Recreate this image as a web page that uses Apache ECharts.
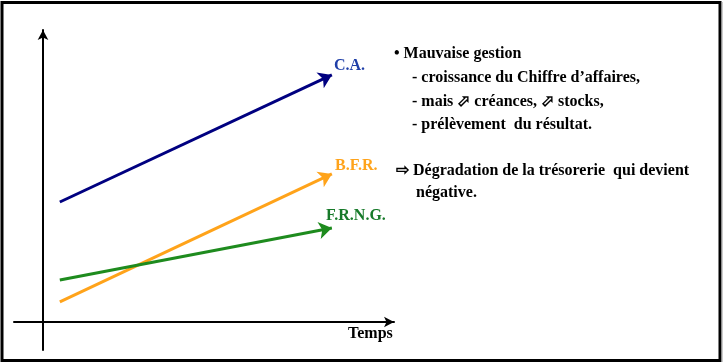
<!DOCTYPE html>
<html>
<head>
<meta charset="utf-8">
<script src="https://cdn.jsdelivr.net/npm/echarts@6/dist/echarts.min.js"></script>
<style>html,body{margin:0;padding:0;background:#fff;}#c{width:723px;height:364px;}</style>
</head>
<body>
<div id="c"></div>
<script>
// Data (abstract units, origin at the axes' crossing)
const temps = [4.8, 82.3];               // start and end on the time axis
const seriesNames = ['C.A.', 'B.F.R.', 'F.R.N.G.'];
const caValues = [41.1, 84.6];
const bfrValues = [6.9, 50.7];
const frngValues = [14.4, 32.2];
const textLines = [
  '• Mauvaise gestion',
  '- croissance du Chiffre d\u2019affaires,',
  '- mais \u2B00 créances, \u2B00 stocks,',
  '- prélèvement  du résultat.'
];
const conclusion = ['\u21E8 Dégradation de la trésorerie  qui devient', 'négative.'];
const axisTitle = 'Temps';

const colors = ['#000080', '#FFA31A', '#1E8B1E'];
const labelColors = ['#1F3FA8', '#FFA31A', '#177A2A'];
const values = [caValues, bfrValues, frngValues];

const serif = '"Liberation Serif", "Times New Roman", serif';
const f16 = 'bold 16px ' + serif;

const chart = echarts.init(document.getElementById('c'), null, {renderer: 'canvas'});

const series = values.map((v, i) => ({
  type: 'lines',
  coordinateSystem: 'cartesian2d',
  z: 5,
  symbol: ['none', 'arrow'],
  symbolSize: [10, 13],
  lineStyle: {color: colors[i], width: 3, opacity: 1},
  data: [{coords: [[temps[0], v[0]], [temps[1], v[1]]]}],
  silent: true
}));

chart.setOption({
  animation: false,
  grid: {left: 14, right: 329, top: 30, bottom: 14},
  xAxis: {
    type: 'value', min: -8.26, max: 100,
    axisLine: {show: true, onZero: true, symbol: ['none', 'arrow'], symbolSize: [8, 10], lineStyle: {color: '#000', width: 2}},
    axisTick: {show: false}, axisLabel: {show: false}, splitLine: {show: false}
  },
  yAxis: {
    type: 'value', min: -9.59, max: 100,
    axisLine: {show: true, onZero: true, symbol: ['none', 'arrow'], symbolSize: [8, 10], lineStyle: {color: '#000', width: 2}},
    axisTick: {show: false}, axisLabel: {show: false}, splitLine: {show: false}
  },
  series: series,
  graphic: [
    {type: 'rect', shape: {x: 2, y: 2.5, width: 718, height: 358}, style: {fill: 'none', stroke: '#000', lineWidth: 3}, silent: true},
    {type: 'line', shape: {x1: 722, y1: 2, x2: 722, y2: 362}, style: {stroke: '#999', lineWidth: 1}, silent: true},
    {type: 'text', x: 348, y: 334, style: {text: axisTitle, font: f16, fill: '#000', textVerticalAlign: 'middle'}},
    {type: 'text', x: 334, y: 66, style: {text: seriesNames[0], font: f16, fill: labelColors[0], textVerticalAlign: 'middle'}},
    {type: 'text', x: 335, y: 166, style: {text: seriesNames[1], font: f16, fill: labelColors[1], textVerticalAlign: 'middle'}},
    {type: 'text', x: 326, y: 216, style: {text: seriesNames[2], font: f16, fill: labelColors[2], textVerticalAlign: 'middle'}},
    {type: 'text', x: 394, y: 54, style: {text: textLines[0], font: f16, fill: '#000', textVerticalAlign: 'middle'}},
    {type: 'text', x: 412, y: 78, style: {text: textLines[1], font: f16, fill: '#000', textVerticalAlign: 'middle'}},
    {type: 'text', x: 412, y: 102, style: {text: textLines[2], font: f16, fill: '#000', textVerticalAlign: 'middle'}},
    {type: 'text', x: 412, y: 125, style: {text: textLines[3], font: f16, fill: '#000', textVerticalAlign: 'middle'}},
    {type: 'text', x: 396, y: 171, style: {text: conclusion[0], font: f16, fill: '#000', textVerticalAlign: 'middle'}},
    {type: 'text', x: 416, y: 193, style: {text: conclusion[1], font: f16, fill: '#000', textVerticalAlign: 'middle'}}
  ]
});
</script>
</body>
</html>
